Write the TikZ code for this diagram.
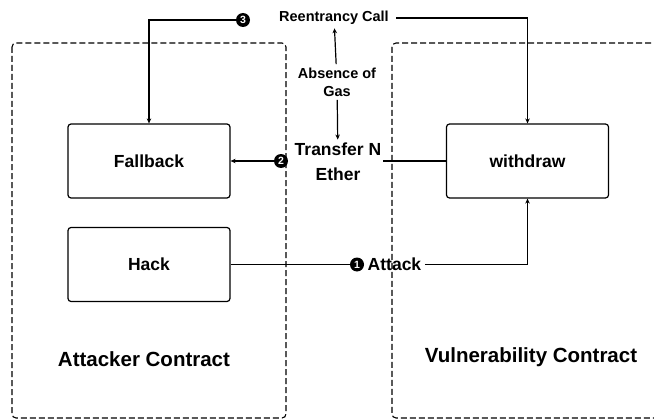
\documentclass[tikz,border=0pt]{standalone}
\usepackage{fontspec}
\setmainfont{Liberation Sans}
\usetikzlibrary{positioning,arrows.meta}

\begin{document}
\begin{tikzpicture}[x=1pt,y=-1pt,
    func/.style={draw, rounded corners=3pt, line width=1.2pt,
      minimum width=162pt, minimum height=74pt,
      font=\fontsize{17.5}{20}\selectfont\bfseries},
    contract/.style={draw, dash pattern=on 6pt off 3pt,
      rounded corners=4pt, line width=1.1pt},
    title/.style={font=\fontsize{20.5}{24}\selectfont\bfseries},
    lbl/.style={font=\fontsize{14.5}{18}\selectfont\bfseries, align=center},
    numdot/.style={circle, fill=black, text=white, inner sep=0pt,
      minimum size=14pt, font=\fontsize{10.5}{10}\selectfont\bfseries},
    wire/.style={line width=1.2pt},
    flow/.style={wire, -{Stealth[length=5pt,width=4.5pt]}}]

    \useasboundingbox (0,0) rectangle (654,420);

    % the two contracts
    \draw[contract] (12,43) rectangle (286,418);
    \draw[contract] (660,43) -- (392,43) -- (392,418) -- (660,418);

    \node[func] (fallback) at (149,161) {Fallback};
    \node[func] (hack) at (149,264.5) {Hack};
    \node[func] (withdraw) at (527.5,161) {withdraw};
    \node[title] (attacker) at (144,359) {Attacker Contract};
    \node[title] (vuln) at (531,357) {Vulnerability Contract};

    % labels in the middle
    \node[lbl] (reentry) at (334,18) {Reentrancy Call};
    \node[lbl] (nogas) at (337,82) {Absence of\\Gas};
    \node[lbl, font=\fontsize{17.5}{25}\selectfont\bfseries] (transfer)
          at (338,162) {Transfer N\\Ether};
    \node[numdot] (n3) at (243,20) {3};
    \node[numdot] (n2) at (281,161) {2};
    \node[numdot] (n1) at (357,264.5) {1};
    \node[font=\fontsize{17.5}{20}\selectfont\bfseries, anchor=west]
          (attack) at (n1.east) {Attack};
    \coordinate (xfer) at (383,161);

    % connectors
    \draw[wire] (hack.east) -- (n1.west);
    \draw[flow] (attack.east) -| (withdraw.south);
    \draw[wire] (withdraw.west) -- (xfer);
    \draw[flow] (n2) -- (fallback.east);
    \draw[flow] (nogas) -- (transfer);
    \draw[flow] (nogas) -- (reentry);
    \draw[flow] ([xshift=4pt]reentry.east) -| (withdraw.north);
    \draw[flow] (n3) -| (fallback.north);
\end{tikzpicture}
\end{document}
